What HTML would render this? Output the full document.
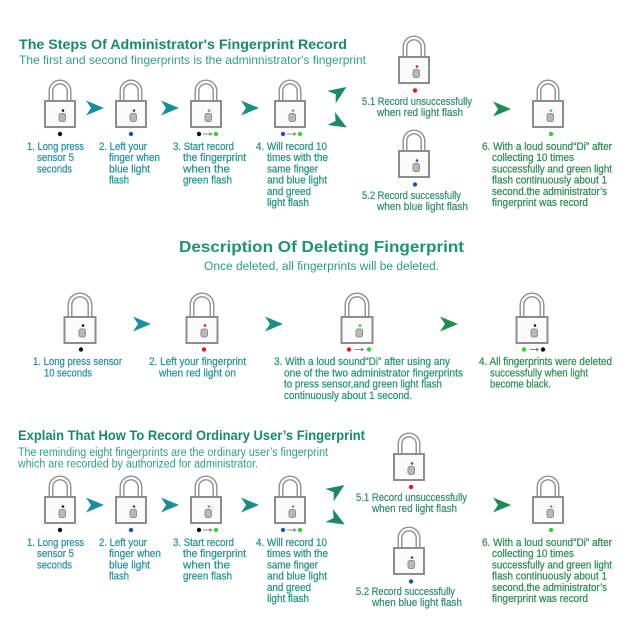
<!DOCTYPE html>
<html>
<head>
<meta charset="utf-8">
<style>
html,body{margin:0;padding:0;background:#fff;}
svg{display:block;}
text{font-family:"Liberation Sans",Arial,sans-serif;}
.t{font-weight:bold;font-size:14px;}
.s{font-size:11px;stroke-width:0.25px;}
</style>
</head>
<body>
<svg width="640" height="640" viewBox="0 0 640 640" xmlns="http://www.w3.org/2000/svg">
<defs>
<g id="L">
<path d="M-9 1V-9A9 9 0 0 1 9 -9V1" fill="none" stroke="#8f8f8f" stroke-width="5"/>
<path d="M-9 1V-9A9 9 0 0 1 9 -9V1" fill="none" stroke="#ffffff" stroke-width="2.2"/>
<rect x="-15" y="1" width="30" height="26" fill="#fbfbfb" stroke="#8d8d8d" stroke-width="2"/>
<rect x="-1" y="13.5" width="6.5" height="8" rx="2" fill="#b9b9b9" stroke="#8f8f8f" stroke-width="1"/>
</g>
<g id="LM">
<path d="M-10 1V-11A10 10 0 0 1 10 -11V1" fill="none" stroke="#8f8f8f" stroke-width="5"/>
<path d="M-10 1V-11A10 10 0 0 1 10 -11V1" fill="none" stroke="#ffffff" stroke-width="2.2"/>
<rect x="-15.5" y="1" width="31" height="26" fill="#fbfbfb" stroke="#8d8d8d" stroke-width="2"/>
<rect x="-1" y="13" width="6.5" height="8" rx="2" fill="#b9b9b9" stroke="#8f8f8f" stroke-width="1"/>
</g>
<g id="A"><path d="M-9 -7.5L9 0L-9 7.5L-4 0Z"/></g>
<g id="SA"><path d="M-3.5 0H5" stroke="#8a8a8a" stroke-width="1"/><path d="M3 -2L6.5 0L3 2Z" fill="#8a8a8a"/></g>
</defs>
<rect width="640" height="640" fill="#fff"/>

<!-- ============ TOP SECTION ============ -->
<text class="t" x="19" y="49" textLength="328" lengthAdjust="spacingAndGlyphs" fill="#178a6c">The Steps Of Administrator's Fingerprint Record</text>
<text x="19" y="64" font-size="12" textLength="347" lengthAdjust="spacingAndGlyphs" fill="#2e9f8c">The first and second fingerprints is the adminnistrator's fingerprint</text>

<use href="#L" x="60" y="100"/><circle cx="63" cy="110.5" r="1.3" fill="#111"/><circle cx="60" cy="134" r="2.2" fill="#111"/>
<use href="#L" x="131" y="100"/><circle cx="134" cy="110.5" r="1.3" fill="#1a4fc4"/><circle cx="131" cy="134" r="2.2" fill="#1a4fc4"/>
<use href="#L" x="206" y="100"/><circle cx="209" cy="110.5" r="1.3" fill="#2fd52f"/>
<circle cx="199" cy="134" r="2.2" fill="#111"/><use href="#SA" x="206.5" y="134"/><circle cx="216" cy="134" r="2.2" fill="#2fd52f"/>
<use href="#L" x="290" y="100"/><circle cx="293" cy="110.5" r="1.3" fill="#2fd52f"/>
<circle cx="283" cy="134" r="2.2" fill="#1a4fc4"/><use href="#SA" x="290.5" y="134"/><circle cx="300" cy="134" r="2.2" fill="#2fd52f"/>
<use href="#L" x="414" y="56"/><circle cx="417" cy="66.5" r="1.3" fill="#e8161e"/><circle cx="415" cy="90.5" r="2.2" fill="#e8161e"/>
<use href="#L" x="414" y="150"/><circle cx="417" cy="160.5" r="1.3" fill="#1a4fc4"/><circle cx="415" cy="184.5" r="2.2" fill="#1a4fc4"/>
<use href="#L" x="548" y="100"/><circle cx="551" cy="110.5" r="1.3" fill="#2fd52f"/><circle cx="551" cy="134" r="2.2" fill="#2fd52f"/>

<use href="#A" x="95" y="108" fill="#1b8da0"/>
<use href="#A" x="170" y="108" fill="#1a8f93"/>
<use href="#A" x="250" y="108" fill="#1a8f80"/>
<g fill="#1a8a64"><path transform="translate(339,92) rotate(-34)" d="M-9 -7.5L9 0L-9 7.5L-4 0Z"/><path transform="translate(339,123) rotate(30)" d="M-9 -7.5L9 0L-9 7.5L-4 0Z"/></g>
<use href="#A" x="502" y="109" fill="#1c8c55"/>

<g class="s" fill="#2990a6" stroke="#2990a6">
<text x="27" y="150" textLength="57" lengthAdjust="spacingAndGlyphs">1. Long press</text>
<text x="37" y="161.2" textLength="37" lengthAdjust="spacingAndGlyphs">sensor 5</text>
<text x="37" y="172.4" textLength="35" lengthAdjust="spacingAndGlyphs">seconds</text>
</g>
<g class="s" fill="#26929e" stroke="#26929e">
<text x="99" y="150" textLength="48" lengthAdjust="spacingAndGlyphs">2. Left your</text>
<text x="109" y="161.2" textLength="51" lengthAdjust="spacingAndGlyphs">finger when</text>
<text x="109" y="172.4" textLength="41" lengthAdjust="spacingAndGlyphs">blue light</text>
<text x="109" y="183.6" textLength="20" lengthAdjust="spacingAndGlyphs">flash</text>
</g>
<g class="s" fill="#249590" stroke="#249590">
<text x="173" y="150" textLength="61" lengthAdjust="spacingAndGlyphs">3. Start record</text>
<text x="183" y="161.2" textLength="63" lengthAdjust="spacingAndGlyphs">the fingerprint</text>
<text x="183" y="172.4" textLength="47" lengthAdjust="spacingAndGlyphs">when the</text>
<text x="183" y="183.6" textLength="49" lengthAdjust="spacingAndGlyphs">green flash</text>
</g>
<g class="s" fill="#269482" stroke="#269482">
<text x="256" y="150" textLength="71" lengthAdjust="spacingAndGlyphs">4. Will record 10</text>
<text x="267" y="161.2" textLength="61" lengthAdjust="spacingAndGlyphs">times with the</text>
<text x="267" y="172.4" textLength="51" lengthAdjust="spacingAndGlyphs">same finger</text>
<text x="267" y="183.6" textLength="60" lengthAdjust="spacingAndGlyphs">and blue light</text>
<text x="267" y="194.8" textLength="44" lengthAdjust="spacingAndGlyphs">and greed</text>
<text x="267" y="206" textLength="42" lengthAdjust="spacingAndGlyphs">light flash</text>
</g>
<g class="s" fill="#368f6c" stroke="#368f6c">
<text x="362" y="105" textLength="110" lengthAdjust="spacingAndGlyphs">5.1 Record unsuccessfully</text>
<text x="377" y="116.2" textLength="86" lengthAdjust="spacingAndGlyphs">when red light flash</text>
<text x="362" y="199" textLength="99" lengthAdjust="spacingAndGlyphs">5.2 Record successfully</text>
<text x="377" y="210.2" textLength="91" lengthAdjust="spacingAndGlyphs">when blue light flash</text>
</g>
<g class="s" fill="#2e8c55" stroke="#2e8c55">
<text x="482" y="150" textLength="130" lengthAdjust="spacingAndGlyphs">6. With a loud sound“Di” after</text>
<text x="492" y="161.2" textLength="82" lengthAdjust="spacingAndGlyphs">collecting 10 times</text>
<text x="492" y="172.4" textLength="120" lengthAdjust="spacingAndGlyphs">successfully and green light</text>
<text x="492" y="183.6" textLength="115" lengthAdjust="spacingAndGlyphs">flash continuously about 1</text>
<text x="492" y="194.8" textLength="115" lengthAdjust="spacingAndGlyphs">second.the administrator’s</text>
<text x="492" y="206" textLength="96" lengthAdjust="spacingAndGlyphs">fingerprint was record</text>
</g>

<!-- ============ MIDDLE SECTION ============ -->
<text x="179" y="252" font-size="16" font-weight="bold" textLength="285" lengthAdjust="spacingAndGlyphs" fill="#1b9470">Description Of Deleting Fingerprint</text>
<text x="204" y="270" font-size="11.5" textLength="235" lengthAdjust="spacingAndGlyphs" fill="#2a9c7c">Once deleted, all fingerprints will be deleted.</text>

<use href="#LM" x="80" y="316"/><circle cx="83" cy="325.5" r="1.3" fill="#111"/><circle cx="81" cy="349.5" r="2.2" fill="#111"/>
<use href="#LM" x="202" y="316"/><circle cx="205" cy="325.5" r="1.3" fill="#e8161e"/><circle cx="204" cy="349.5" r="2.2" fill="#e8161e"/>
<use href="#LM" x="357" y="316"/><circle cx="360" cy="325.5" r="1.3" fill="#2fd52f"/>
<circle cx="349" cy="349.5" r="2.2" fill="#e8161e"/><use href="#SA" x="358" y="349.5"/><circle cx="369" cy="349.5" r="2.2" fill="#2fd52f"/>
<use href="#LM" x="532" y="316"/><circle cx="535" cy="325.5" r="1.3" fill="#111"/>
<circle cx="524" cy="349.5" r="2.2" fill="#2fd52f"/><use href="#SA" x="533" y="349.5"/><circle cx="543" cy="349.5" r="2.2" fill="#111"/>

<use href="#A" x="142" y="324" fill="#1b8ea2"/>
<use href="#A" x="274" y="324" fill="#1a8f80"/>
<use href="#A" x="449" y="324" fill="#1e8e4c"/>

<g class="s" fill="#2990a6" stroke="#2990a6">
<text x="33" y="365" textLength="89" lengthAdjust="spacingAndGlyphs">1. Long press sensor</text>
<text x="44" y="376.3" textLength="48" lengthAdjust="spacingAndGlyphs">10 seconds</text>
</g>
<g class="s" fill="#25949a" stroke="#25949a">
<text x="149" y="365" textLength="97" lengthAdjust="spacingAndGlyphs">2. Left your fingerprint</text>
<text x="159" y="376.3" textLength="77" lengthAdjust="spacingAndGlyphs">when red light on</text>
</g>
<g class="s" fill="#25966e" stroke="#25966e">
<text x="274" y="365" textLength="176" lengthAdjust="spacingAndGlyphs">3. With a loud sound“Di” after using any</text>
<text x="284" y="376.3" textLength="179" lengthAdjust="spacingAndGlyphs">one of the two administrator fingerprints</text>
<text x="284" y="387.6" textLength="158" lengthAdjust="spacingAndGlyphs">to press sensor,and green light flash</text>
<text x="284" y="398.9" textLength="128" lengthAdjust="spacingAndGlyphs">continuously about 1 second.</text>
</g>
<g class="s" fill="#2e8f55" stroke="#2e8f55">
<text x="479" y="365" textLength="133" lengthAdjust="spacingAndGlyphs">4. All fingerprints were deleted</text>
<text x="490" y="376.3" textLength="98" lengthAdjust="spacingAndGlyphs">successfully when light</text>
<text x="490" y="387.6" textLength="61" lengthAdjust="spacingAndGlyphs">become black.</text>
</g>

<!-- ============ BOTTOM SECTION ============ -->
<text class="t" x="18" y="440" textLength="347" lengthAdjust="spacingAndGlyphs" fill="#178a6c">Explain That How To Record Ordinary User’s Fingerprint</text>
<text x="18" y="456" font-size="11.5" textLength="310" lengthAdjust="spacingAndGlyphs" fill="#2a9f88">The reminding eight fingerprints are the ordinary user’s fingerprint</text>
<text x="18" y="467.5" font-size="11.5" textLength="240" lengthAdjust="spacingAndGlyphs" fill="#2a9f88">which are recorded by authorized for administrator.</text>

<use href="#L" x="60" y="496"/><circle cx="63" cy="506.5" r="1.3" fill="#111"/><circle cx="60" cy="530" r="2.2" fill="#111"/>
<use href="#L" x="131" y="496"/><circle cx="134" cy="506.5" r="1.3" fill="#1a4fc4"/><circle cx="131" cy="530" r="2.2" fill="#1a4fc4"/>
<use href="#L" x="206" y="496"/><circle cx="209" cy="506.5" r="1.3" fill="#2fd52f"/>
<circle cx="199" cy="530" r="2.2" fill="#111"/><use href="#SA" x="206.5" y="530"/><circle cx="216" cy="530" r="2.2" fill="#2fd52f"/>
<use href="#L" x="290" y="496"/><circle cx="293" cy="506.5" r="1.3" fill="#2fd52f"/>
<circle cx="283" cy="530" r="2.2" fill="#1a4fc4"/><use href="#SA" x="290.5" y="530"/><circle cx="300" cy="530" r="2.2" fill="#2fd52f"/>
<use href="#L" x="409" y="453"/><circle cx="412" cy="463.5" r="1.3" fill="#e8161e"/><circle cx="411" cy="487" r="2.2" fill="#e8161e"/>
<use href="#L" x="409" y="547"/><circle cx="412" cy="557.5" r="1.3" fill="#1a4fc4"/><circle cx="411" cy="581.5" r="2.2" fill="#1a4fc4"/>
<use href="#L" x="548" y="496"/><circle cx="551" cy="506.5" r="1.3" fill="#2fd52f"/><circle cx="551" cy="530" r="2.2" fill="#2fd52f"/>

<use href="#A" x="95" y="505" fill="#1b8da0"/>
<use href="#A" x="170" y="505" fill="#1a8f93"/>
<use href="#A" x="250" y="505" fill="#1a8f80"/>
<g fill="#1a8a64"><path transform="translate(337,490) rotate(-34)" d="M-9 -7.5L9 0L-9 7.5L-4 0Z"/><path transform="translate(337,520) rotate(30)" d="M-9 -7.5L9 0L-9 7.5L-4 0Z"/></g>
<use href="#A" x="502" y="505" fill="#1c8c55"/>

<g class="s" fill="#2990a6" stroke="#2990a6">
<text x="27" y="546" textLength="57" lengthAdjust="spacingAndGlyphs">1. Long press</text>
<text x="37" y="557.2" textLength="37" lengthAdjust="spacingAndGlyphs">sensor 5</text>
<text x="37" y="568.4" textLength="35" lengthAdjust="spacingAndGlyphs">seconds</text>
</g>
<g class="s" fill="#26929e" stroke="#26929e">
<text x="99" y="546" textLength="48" lengthAdjust="spacingAndGlyphs">2. Left your</text>
<text x="109" y="557.2" textLength="52" lengthAdjust="spacingAndGlyphs">finger when</text>
<text x="109" y="568.4" textLength="41" lengthAdjust="spacingAndGlyphs">blue light</text>
<text x="109" y="579.6" textLength="20" lengthAdjust="spacingAndGlyphs">flash</text>
</g>
<g class="s" fill="#249590" stroke="#249590">
<text x="173" y="546" textLength="61" lengthAdjust="spacingAndGlyphs">3. Start record</text>
<text x="183" y="557.2" textLength="63" lengthAdjust="spacingAndGlyphs">the fingerprint</text>
<text x="183" y="568.4" textLength="47" lengthAdjust="spacingAndGlyphs">when the</text>
<text x="183" y="579.6" textLength="49" lengthAdjust="spacingAndGlyphs">green flash</text>
</g>
<g class="s" fill="#269482" stroke="#269482">
<text x="256" y="546" textLength="71" lengthAdjust="spacingAndGlyphs">4. Will record 10</text>
<text x="267" y="557.2" textLength="61" lengthAdjust="spacingAndGlyphs">times with the</text>
<text x="267" y="568.4" textLength="51" lengthAdjust="spacingAndGlyphs">same finger</text>
<text x="267" y="579.6" textLength="60" lengthAdjust="spacingAndGlyphs">and blue light</text>
<text x="267" y="590.8" textLength="44" lengthAdjust="spacingAndGlyphs">and greed</text>
<text x="267" y="602" textLength="42" lengthAdjust="spacingAndGlyphs">light flash</text>
</g>
<g class="s" fill="#368f6c" stroke="#368f6c">
<text x="356" y="501" textLength="111" lengthAdjust="spacingAndGlyphs">5.1 Record unsuccessfully</text>
<text x="372" y="512.2" textLength="85" lengthAdjust="spacingAndGlyphs">when red light flash</text>
<text x="356" y="595" textLength="99" lengthAdjust="spacingAndGlyphs">5.2 Record successfully</text>
<text x="372" y="606.2" textLength="90" lengthAdjust="spacingAndGlyphs">when blue light flash</text>
</g>
<g class="s" fill="#2e8c55" stroke="#2e8c55">
<text x="482" y="546" textLength="130" lengthAdjust="spacingAndGlyphs">6. With a loud sound“Di” after</text>
<text x="492" y="557.2" textLength="82" lengthAdjust="spacingAndGlyphs">collecting 10 times</text>
<text x="492" y="568.4" textLength="120" lengthAdjust="spacingAndGlyphs">successfully and green light</text>
<text x="492" y="579.6" textLength="115" lengthAdjust="spacingAndGlyphs">flash continuously about 1</text>
<text x="492" y="590.8" textLength="115" lengthAdjust="spacingAndGlyphs">second.the administrator’s</text>
<text x="492" y="602" textLength="96" lengthAdjust="spacingAndGlyphs">fingerprint was record</text>
</g>
</svg>
</body>
</html>
